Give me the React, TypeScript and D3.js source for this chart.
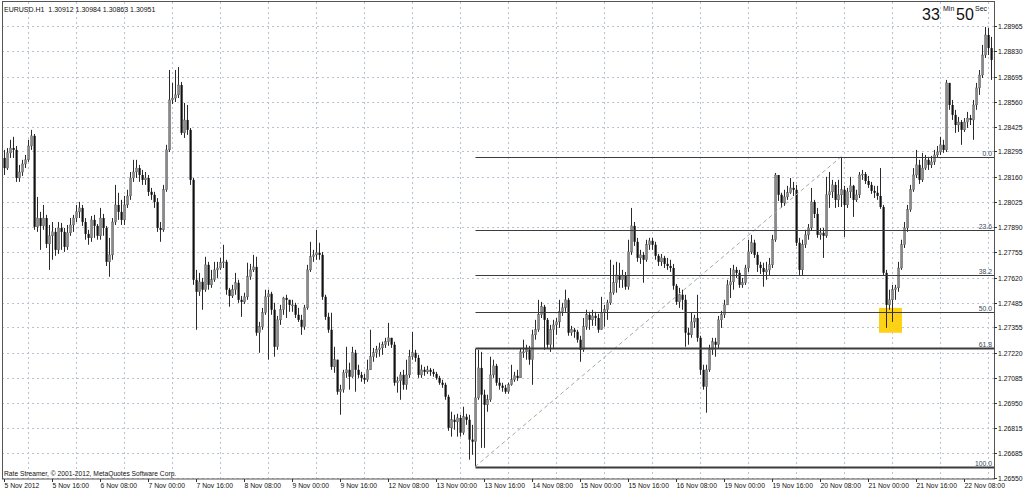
import React from 'react';
import * as d3 from 'd3';

// Hourly EURUSD bars, 5 Nov 2012 00:00 .. 22 Nov 2012 17:00 (trading hours only)
const firstOpen = 1.2826;
const closes = [
1.28206,1.28287,1.28313,1.28303,1.28153,1.28185,1.28228,1.28250,1.28324,1.28378,
1.27892,1.27939,1.27897,1.27939,1.27801,1.27844,1.27865,1.27769,1.27886,1.27865,
1.27785,1.27860,1.27902,1.27939,1.27972,1.27993,1.27918,1.27854,1.27833,1.27929,
1.27897,1.27844,1.27939,1.27886,1.27705,1.27742,1.27918,1.28009,1.27972,1.27929,
1.28009,1.28057,1.28153,1.28185,1.28206,1.28169,1.28143,1.28153,1.28079,1.28063,
1.28025,1.27886,1.27876,1.28090,1.28303,1.28570,1.28580,1.28597,1.28650,1.28394,
1.28463,1.28410,1.28143,1.27609,1.27545,1.27598,1.27556,1.27689,1.27582,1.27609,
1.27662,1.27672,1.27700,1.27705,1.27556,1.27523,1.27556,1.27593,1.27502,1.27491,
1.27518,1.27625,1.27662,1.27678,1.27326,1.27358,1.27433,1.27518,1.27534,1.27449,
1.27251,1.27395,1.27449,1.27512,1.27502,1.27475,1.27475,1.27422,1.27395,1.27358,
1.27459,1.27662,1.27732,1.27742,1.27753,1.27742,1.27518,1.27411,1.27342,1.27144,
1.27182,1.27011,1.27022,1.27112,1.27128,1.27091,1.27219,1.27128,1.27101,1.27085,
1.27075,1.27128,1.27198,1.27219,1.27235,1.27245,1.27262,1.27278,1.27299,1.27262,
1.27059,1.27069,1.27101,1.27048,1.27101,1.27198,1.27219,1.27192,1.27101,1.27128,
1.27117,1.27128,1.27117,1.27106,1.27085,1.27059,1.27048,1.26984,1.26818,1.26861,
1.26850,1.26871,1.26792,1.26877,1.26861,1.26755,1.26744,1.26978,1.27138,1.26995,
1.26941,1.26968,1.27101,1.27149,1.27059,1.27043,1.27032,1.27011,1.27048,1.27075,
1.27096,1.27085,1.27224,1.27224,1.27235,1.27182,1.27315,1.27342,1.27422,1.27465,
1.27395,1.27262,1.27342,1.27368,1.27384,1.27438,1.27459,1.27502,1.27326,1.27342,
1.27331,1.27289,1.27235,1.27358,1.27422,1.27395,1.27416,1.27405,1.27342,1.27433,
1.27449,1.27486,1.27540,1.27593,1.27635,1.27609,1.27630,1.27572,1.27758,1.27897,
1.27812,1.27726,1.27742,1.27716,1.27796,1.27817,1.27796,1.27737,1.27705,1.27726,
1.27694,1.27683,1.27672,1.27577,1.27491,1.27529,1.27502,1.27326,1.27315,1.27384,
1.27405,1.27299,1.27128,1.27038,1.27128,1.27235,1.27278,1.27262,1.27395,1.27422,
1.27475,1.27582,1.27598,1.27662,1.27646,1.27582,1.27593,1.27672,1.27758,1.27807,
1.27742,1.27689,1.27672,1.27651,1.27662,1.27689,1.27823,1.28169,1.28063,1.28020,
1.28052,1.28074,1.28100,1.28090,1.27807,1.27662,1.27796,1.27849,1.27886,1.28025,
1.27961,1.27849,1.27860,1.27844,1.28063,1.28079,1.28116,1.28036,1.28063,1.28090,
1.28009,1.28079,1.28111,1.28036,1.28063,1.28169,1.28174,1.28137,1.28116,1.28084,
1.28074,1.28057,1.27998,1.27646,1.27475,1.27502,1.27556,1.27566,1.27672,1.27796,
1.27886,1.27983,1.28090,1.28169,1.28223,1.28143,1.28206,1.28250,1.28223,1.28239,
1.28276,1.28292,1.28330,1.28303,1.28661,1.28543,1.28490,1.28436,1.28452,1.28410,
1.28452,1.28473,1.28463,1.28543,1.28634,1.28703,1.28810,1.28917,1.28847,1.28784,
];
const highs = [
1.28303,1.28313,1.28357,1.28373,1.28324,1.28223,1.28250,1.28276,1.28357,1.28410,
1.28388,1.28052,1.27972,1.28009,1.27956,1.27902,1.27918,1.27886,1.27918,1.27913,
1.27886,1.27902,1.27939,1.27956,1.28009,1.28025,1.28009,1.27939,1.27876,1.27950,
1.27956,1.27907,1.27993,1.27961,1.27897,1.27833,1.27939,1.28116,1.28074,1.28036,
1.28057,1.28090,1.28185,1.28250,1.28250,1.28223,1.28196,1.28185,1.28169,1.28100,
1.28079,1.28046,1.27918,1.28116,1.28330,1.28730,1.28661,1.28730,1.28746,1.28666,
1.28554,1.28543,1.28420,1.28153,1.27662,1.27646,1.27619,1.27732,1.27705,1.27662,
1.27705,1.27705,1.27726,1.27796,1.27716,1.27566,1.27582,1.27646,1.27609,1.27523,
1.27540,1.27700,1.27694,1.27742,1.27732,1.27384,1.27459,1.27556,1.27556,1.27545,
1.27486,1.27416,1.27475,1.27518,1.27529,1.27502,1.27502,1.27486,1.27459,1.27422,
1.27475,1.27689,1.27812,1.27769,1.27876,1.27807,1.27758,1.27529,1.27433,1.27433,
1.27251,1.27182,1.27048,1.27128,1.27251,1.27166,1.27251,1.27235,1.27155,1.27117,
1.27106,1.27182,1.27342,1.27245,1.27256,1.27273,1.27278,1.27299,1.27379,1.27299,
1.27278,1.27091,1.27117,1.27128,1.27182,1.27235,1.27331,1.27235,1.27208,1.27155,
1.27144,1.27149,1.27138,1.27133,1.27117,1.27096,1.27075,1.27059,1.26995,1.26904,
1.26888,1.26893,1.26888,1.26931,1.26893,1.26888,1.26834,1.27240,1.27235,1.27224,
1.27022,1.26995,1.27198,1.27182,1.27160,1.27085,1.27059,1.27048,1.27059,1.27155,
1.27117,1.27128,1.27245,1.27289,1.27262,1.27256,1.27342,1.27395,1.27502,1.27491,
1.27475,1.27405,1.27368,1.27395,1.27405,1.27502,1.27486,1.27556,1.27512,1.27363,
1.27352,1.27342,1.27310,1.27405,1.27449,1.27438,1.27449,1.27438,1.27427,1.27518,
1.27475,1.27502,1.27716,1.27689,1.27705,1.27700,1.27662,1.27651,1.27823,1.27993,
1.27918,1.27833,1.27769,1.27758,1.27823,1.27833,1.27833,1.27812,1.27747,1.27747,
1.27737,1.27726,1.27716,1.27694,1.27587,1.27566,1.27556,1.27529,1.27352,1.27433,
1.27422,1.27529,1.27310,1.27155,1.27155,1.27262,1.27299,1.27299,1.27416,1.27443,
1.27502,1.27609,1.27672,1.27689,1.27678,1.27662,1.27619,1.27689,1.27823,1.27849,
1.27823,1.27758,1.27705,1.27700,1.27705,1.27726,1.27849,1.28180,1.28169,1.28074,
1.28090,1.28111,1.28153,1.28132,1.28116,1.27833,1.27823,1.27876,1.27907,1.28100,
1.28036,1.27993,1.27886,1.27886,1.28159,1.28185,1.28143,1.28132,1.28143,1.28266,
1.28111,1.28100,1.28159,1.28116,1.28090,1.28185,1.28196,1.28185,1.28164,1.28132,
1.28111,1.28111,1.28206,1.28009,1.27662,1.27556,1.27582,1.27582,1.27705,1.27823,
1.27918,1.28009,1.28116,1.28206,1.28303,1.28250,1.28287,1.28276,1.28266,1.28271,
1.28303,1.28324,1.28373,1.28357,1.28677,1.28634,1.28570,1.28517,1.28479,1.28463,
1.28473,1.28506,1.28490,1.28570,1.28661,1.28730,1.28864,1.28960,1.28954,1.28907,
];
const lows = [
1.28169,1.28196,1.28260,1.28260,1.28132,1.28132,1.28164,1.28206,1.28239,1.28303,
1.27876,1.27865,1.27769,1.27876,1.27779,1.27662,1.27716,1.27737,1.27747,1.27769,
1.27758,1.27769,1.27844,1.27865,1.27918,1.27939,1.27897,1.27823,1.27796,1.27812,
1.27833,1.27823,1.27823,1.27844,1.27683,1.27625,1.27716,1.27902,1.27929,1.27902,
1.27902,1.27993,1.28036,1.28132,1.28153,1.28132,1.28116,1.28116,1.28057,1.28036,
1.27993,1.27865,1.27812,1.27865,1.28079,1.28292,1.28548,1.28559,1.28580,1.28383,
1.28367,1.28383,1.28116,1.27582,1.27342,1.27523,1.27449,1.27545,1.27556,1.27566,
1.27598,1.27619,1.27662,1.27672,1.27529,1.27465,1.27512,1.27529,1.27486,1.27411,
1.27480,1.27502,1.27609,1.27651,1.27310,1.27219,1.27342,1.27422,1.27182,1.27422,
1.27198,1.27235,1.27368,1.27422,1.27405,1.27438,1.27438,1.27405,1.27384,1.27315,
1.27342,1.27449,1.27651,1.27705,1.27716,1.27716,1.27502,1.27395,1.27326,1.27128,
1.27112,1.26995,1.26888,1.27006,1.27085,1.27022,1.27085,1.27011,1.27085,1.27064,
1.27053,1.27064,1.27128,1.27171,1.27192,1.27198,1.27208,1.27245,1.27256,1.27245,
1.27043,1.27006,1.26968,1.27022,1.27022,1.27085,1.27182,1.27171,1.27085,1.27085,
1.27096,1.27106,1.27096,1.27091,1.27075,1.27048,1.27032,1.26968,1.26802,1.26771,
1.26808,1.26771,1.26771,1.26781,1.26834,1.26648,1.26674,1.26610,1.26968,1.26711,
1.26711,1.26904,1.26957,1.27085,1.27043,1.27022,1.27011,1.27000,1.27000,1.27043,
1.27064,1.27069,1.27085,1.27192,1.27182,1.27155,1.27048,1.27289,1.27331,1.27405,
1.27235,1.27245,1.27224,1.27245,1.27315,1.27352,1.27416,1.27438,1.27310,1.27310,
1.27299,1.27273,1.27171,1.27224,1.27342,1.27342,1.27363,1.27363,1.27326,1.27352,
1.27358,1.27395,1.27475,1.27529,1.27540,1.27566,1.27566,1.27556,1.27556,1.27742,
1.27790,1.27705,1.27694,1.27593,1.27705,1.27769,1.27769,1.27716,1.27683,1.27683,
1.27672,1.27662,1.27651,1.27556,1.27475,1.27459,1.27449,1.27251,1.27262,1.27299,
1.27352,1.27278,1.27101,1.27022,1.26899,1.27117,1.27208,1.27198,1.27245,1.27352,
1.27405,1.27475,1.27512,1.27556,1.27619,1.27566,1.27566,1.27582,1.27651,1.27747,
1.27726,1.27651,1.27640,1.27572,1.27609,1.27635,1.27672,1.27812,1.28030,1.27993,
1.28004,1.28036,1.28068,1.28057,1.27790,1.27635,1.27635,1.27779,1.27823,1.27870,
1.27939,1.27833,1.27823,1.27726,1.27833,1.27993,1.28046,1.27993,1.27998,1.27998,
1.27838,1.27993,1.28046,1.27945,1.28025,1.28046,1.28143,1.28121,1.28100,1.28068,
1.28046,1.28036,1.27988,1.27630,1.27352,1.27449,1.27384,1.27502,1.27545,1.27662,
1.27779,1.27865,1.27972,1.28079,1.28153,1.28121,1.28132,1.28196,1.28196,1.28206,
1.28223,1.28260,1.28276,1.28287,1.28292,1.28517,1.28463,1.28394,1.28399,1.28330,
1.28399,1.28420,1.28436,1.28357,1.28517,1.28597,1.28687,1.28794,1.28810,1.28677,
];

const yTickLabels = [
  '1.28965', '1.28830', '1.28695', '1.28560', '1.28425', '1.28295', '1.28160', '1.28025',
  '1.27890', '1.27755', '1.27620', '1.27485', '1.27355', '1.27220', '1.27085', '1.26950',
  '1.26815', '1.26685', '1.26550',
];
const xTickLabels = [
  '5 Nov 2012', '5 Nov 16:00', '6 Nov 08:00', '7 Nov 00:00', '7 Nov 16:00', '8 Nov 08:00',
  '9 Nov 00:00', '9 Nov 16:00', '12 Nov 08:00', '13 Nov 00:00', '13 Nov 16:00', '14 Nov 08:00',
  '15 Nov 00:00', '15 Nov 16:00', '16 Nov 08:00', '19 Nov 00:00', '19 Nov 16:00', '20 Nov 08:00',
  '21 Nov 00:00', '21 Nov 16:00', '22 Nov 08:00',
];
const barsPerTick = 16;

// Fibonacci retracement anchors (bar index) and levels
const fibLowBar = 157;
const fibHighBar = 279;
const fibLevels = [0, 23.6, 38.2, 50, 61.8, 100];
const fibLevelLabels = ['0.0', '23.6', '38.2', '50.0', '61.8', '100.0'];

// highlighted zone (bars, prices)
const zoneBars = [292, 299];
const zonePrices = [1.27459, 1.27326];

const headerText = 'EURUSD.H1  1.30912 1.30984 1.30863 1.30951';
const copyrightText = 'Rate Streamer, \u00A9 2001-2012, MetaQuotes Software Corp.';

const FONT = '"Liberation Sans", Arial, sans-serif';

export default function App() {
  const W = 1024, H = 494;
  const plotL = 2, plotR = 994, plotT = 2, plotB = 479;
  const n = closes.length;
  const x = d3.scaleLinear().domain([0, n - 1]).range([4, 991]);
  const y = d3.scaleLinear().domain([1.2655, 1.28965]).range([478, 26]);

  const bars = closes.map((c, i) => {
    const o = i === 0 ? firstOpen : closes[i - 1];
    const h = Math.max(highs[i], o, c);
    const l = Math.min(lows[i], o, c);
    return { o, c, h, l, i };
  });

  const fibHigh = highs[fibHighBar];
  const fibLow = lows[fibLowBar];
  const fibX0 = Math.round(x(fibLowBar)) + 0.5;

  const gridY = yTickLabels.map((s) => Math.round(y(+s)) + 0.5);
  const gridXs: number[] = [];
  for (let b = barsPerTick / 2; b < n; b += barsPerTick) gridXs.push(Math.round(x(b)) + 0.5);

  return (
    <svg width={W} height={H} style={{ position: 'absolute', left: 0, top: 0, background: '#fff' }}
      fontFamily={FONT}>
      <rect x={0} y={0} width={W} height={H} fill="#fff" />
      {/* grid */}
      <g stroke="#b9c3d3" strokeWidth={1} strokeDasharray="2,3">
        {gridY.map((gy, k) => <line key={'gy' + k} x1={plotL} x2={plotR} y1={gy} y2={gy} />)}
        {gridXs.map((gx, k) => <line key={'gx' + k} x1={gx} x2={gx} y1={plotT} y2={plotB} />)}
      </g>
      {/* highlight zone */}
      <rect x={x(zoneBars[0]) - 1} y={y(zonePrices[0])}
        width={x(zoneBars[1]) - x(zoneBars[0]) + 2}
        height={y(zonePrices[1]) - y(zonePrices[0])} fill="#fcd116" />
      {/* candles */}
      <g>
        {bars.map((b) => {
          const cx = Math.round(x(b.i));
          const top = y(Math.max(b.o, b.c));
          const bot = y(Math.min(b.o, b.c));
          const up = b.c >= b.o;
          return (
            <g key={b.i}>
              <line x1={cx + 0.5} x2={cx + 0.5} y1={y(b.h)} y2={y(b.l)} stroke="#2a2a2a" strokeWidth={1} />
              <rect x={cx - 0.5} y={top} width={2.2} height={Math.max(1, bot - top)}
                fill={up ? '#8a8a8a' : '#111'} stroke={up ? '#5a5a5a' : 'none'} strokeWidth={0.4} />
            </g>
          );
        })}
      </g>
      {/* fibonacci */}
      <line x1={x(fibLowBar)} y1={y(fibLow)} x2={x(fibHighBar)} y2={y(fibHigh)}
        stroke="#a8a8a8" strokeWidth={1} strokeDasharray="4,3" />
      <g>
        {fibLevels.map((lv, k) => {
          const p = fibHigh - (fibHigh - fibLow) * lv / 100;
          const ly = Math.round(y(p)) + 0.5;
          const thick = lv === 61.8 || lv === 100;
          return (
            <g key={'fib' + k}>
              <line x1={fibX0} x2={plotR} y1={ly} y2={ly} stroke="#3c3c3c" strokeWidth={thick ? 1.8 : 1.1} />
              <text x={plotR - 2} y={ly - 2} textAnchor="end" fontSize={6.8} fill="#3a4a5a">{fibLevelLabels[k]}</text>
            </g>
          );
        })}
      </g>
      {/* frame */}
      <rect x={plotL + 0.5} y={plotT - 0.5} width={plotR - plotL} height={plotB - plotT + 0.5}
        fill="none" stroke="#555" strokeWidth={1} />
      {/* y axis */}
      <g fontSize={6.8} fill="#111">
        {yTickLabels.map((s, k) => (
          <g key={'yt' + k}>
            <line x1={plotR} x2={plotR + 3} y1={gridY[k]} y2={gridY[k]} stroke="#333" />
            <text x={plotR + 4} y={gridY[k]} dy="0.35em">{s}</text>
          </g>
        ))}
      </g>
      {/* x axis */}
      <g fontSize={6.8} fill="#111">
        {xTickLabels.map((s, k) => {
          const tx = Math.round(x(k * barsPerTick)) + 0.5;
          return (
            <g key={'xt' + k}>
              <line x1={tx} x2={tx} y1={plotB} y2={plotB + 3} stroke="#333" />
              <text x={tx} y={488}>{s}</text>
            </g>
          );
        })}
      </g>
      {/* texts */}
      <text x={4} y={12} fontSize={7} fill="#111" style={{ whiteSpace: 'pre' }}>{headerText}</text>
      <text x={4} y={476} fontSize={6.7} fill="#111">{copyrightText}</text>
      <g fill="#111">
        <text x={922} y={20} fontSize={16}>33</text>
        <text x={943} y={11} fontSize={7}>Min</text>
        <text x={956} y={20} fontSize={16}>50</text>
        <text x={975} y={11} fontSize={7}>Sec</text>
      </g>
    </svg>
  );
}
